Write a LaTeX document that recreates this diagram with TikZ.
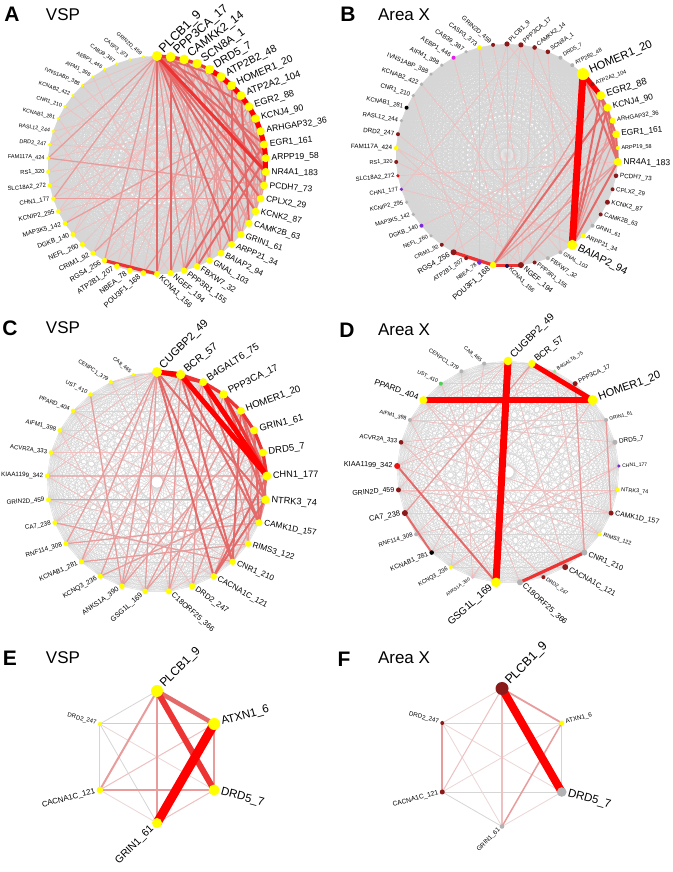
\documentclass[tikz,border=0pt]{standalone}
\usepackage{fontspec}
\setmainfont{Liberation Sans}
\definecolor{HubYellow}{HTML}{FFFF00}
\definecolor{DarkRed}{HTML}{8B1A1A}
\definecolor{NodeGray}{HTML}{B2B2B2}
\definecolor{DeepPurple}{HTML}{7A2BD9}
\definecolor{HotMagenta}{HTML}{E020E8}
\definecolor{NavyDot}{HTML}{14145A}
\definecolor{BrightRed}{HTML}{EE1111}
\definecolor{LeafGreen}{HTML}{4CD24C}
\definecolor{PaleGreen}{HTML}{9BE89B}
\definecolor{PalePink}{HTML}{F2B8C6}
\definecolor{MeshGray}{HTML}{D6D6D6}
\definecolor{EdgeFaint}{HTML}{EDD6D6}
\definecolor{EdgeLow}{HTML}{EFC0C0}
\definecolor{EdgeMid}{HTML}{E89C9C}
\definecolor{EdgeHigh}{HTML}{E46A6A}
\definecolor{EdgeTop}{HTML}{EE3333}
\definecolor{EdgeMax}{HTML}{FF0000}
\usetikzlibrary{positioning, calc, backgrounds}

\tikzset{
  gene/.style={circle, inner sep=0pt, draw=none},
  glab/.style={inner sep=0pt, text=black},
  mesh/.style={draw=MeshGray, line width=0.35pt},
  eLow/.style={draw=EdgeLow, line width=0.8pt},
  eMid/.style={draw=EdgeMid, line width=1.3pt},
  eHigh/.style={draw=EdgeHigh, line width=2pt},
  eTop/.style={draw=EdgeTop, line width=3.2pt},
  eMax/.style={draw=EdgeMax, line width=5pt},
  plabel/.style={font=\fontsize{21}{21}\selectfont\bfseries},
  ptitle/.style={font=\fontsize{17}{17}\selectfont}
}

\begin{document}
\begin{tikzpicture}[x=1pt, y=1pt]
  \useasboundingbox (0,0) rectangle (672,872);
  \begin{scope}[on background layer]
    \fill[white] (0,0) rectangle (672,872);
  \end{scope}

  % Panel A -- VSP
  \node[plabel] (labA) at (12,858) {A};
  \node[ptitle] (ttlA) at (63,857) {VSP};
  \foreach \g [count=\k] in {PLCB1\_9, PPP3CA\_17, CAMKK2\_14, SCN8A\_1, DRD5\_7,
      ATP2B2\_48, HOMER1\_20, ATP2A2\_104, EGR2\_88, KCNJ4\_90, ARHGAP32\_36,
      EGR1\_161, ARPP19\_58, NR4A1\_183, PCDH7\_73, CPLX2\_29, KCNK2\_87,
      CAMK2B\_63, GRIN1\_61, ARPP21\_34, BAIAP2\_94, GNAL\_103, FBXW7\_32,
      PPP3R1\_155, NGEF\_194, KCNA1\_156, POU3F1\_168, NBEA\_78, ATP2B1\_207,
      RGS4\_256, CRIM1\_92, NEFL\_260, DGKB\_140, MAP3K5\_142, KCNIP2\_295,
      CHN1\_177, SLC18A2\_272, RS1\_320, FAM117A\_424, DRD2\_247, RASL12\_244,
      KCNAB1\_281, CNR1\_210, KCNAB2\_422, IVNS1ABP\_388, AIFM1\_398,
      AEBP1\_446, CAB39\_387, CASP3\_373, GRIN2D\_459} {
    \pgfmathsetmacro\ang{90-7.2*(\k-1)}
    \pgfmathsetmacro\nr{max(1.5,5-0.08*(\k-1))}
    \pgfmathsetmacro\fs{\k<=10 ? 12.5-0.4*(\k-1) :
      (\k<=26 ? 8.8-0.07*(\k-10) : max(5.3,7.7-0.16*(\k-26)))}
    \pgfmathtruncatemacro\lft{\ang<-90}
    \pgfmathsetmacro\rot{\lft ? (\ang+180)/2 : \ang/2}
    \ifnum\lft=1 \def\anc{east}\else \def\anc{west}\fi
    \node[gene, fill=HubYellow, minimum size=2*\nr] (a\k) at ($(157,707)+(\ang:109)$) {};
    \node[glab, anchor=\anc, rotate=\rot, font=\fontsize{\fs}{\fs}\selectfont]
      (al\k) at ($(a\k.center)+(\rot+180*\lft:\nr+1.5)$) {\g};
  }
  \begin{scope}[on background layer]
    \foreach \i in {1,...,49} {
      \pgfmathtruncatemacro\nx{\i+1}
      \foreach \j in {\nx,...,50} \draw[mesh] (a\i.center) -- (a\j.center);
    }
    \foreach \i/\j in {1/33, 1/42, 1/45, 2/29, 2/35, 2/40, 3/27, 3/31, 3/38, 4/33,
        5/30, 5/37, 6/28, 6/34, 7/32, 7/41, 8/29, 8/36, 10/22, 10/39, 11/26,
        11/31, 12/30, 13/35, 19/43, 21/44, 25/42, 12/38, 13/40, 20/45, 22/47,
        18/37, 7/35, 11/33, 24/46, 27/41}
      \draw[eLow] (a\i.center) -- (a\j.center);
    \foreach \i/\j in {15/16, 1/18, 1/19, 1/22, 1/24, 1/28, 1/30, 1/36, 1/39, 2/16,
        2/19, 2/21, 3/15, 3/18, 3/23, 4/12, 4/17, 4/20, 4/26, 5/16, 5/21, 5/24,
        6/13, 6/19, 6/22, 7/14, 7/25, 8/23, 9/15, 9/17, 9/24, 10/16, 10/27,
        11/17, 12/19, 14/17, 14/21, 15/39, 16/36, 10/34, 9/31}
      \draw[eMid] (a\i.center) -- (a\j.center);
    \foreach \i/\j in {14/15, 1/4, 1/6, 1/9, 1/12, 1/15, 1/16, 1/17, 1/20, 1/26,
        2/14, 2/25, 3/13, 5/14, 7/20, 8/18, 12/24, 13/23}
      \draw[eHigh] (a\i.center) -- (a\j.center);
    \foreach \i/\j in {1/2, 2/3, 3/4, 4/5, 1/14, 26/30}
      \draw[eTop] (a\i.center) -- (a\j.center);
    \foreach \i/\j in {5/6, 6/7, 7/8, 8/9, 9/10, 10/11, 11/12, 12/13, 13/14}
      \draw[eMax] (a\i.center) -- (a\j.center);
  \end{scope}

  % Panel B -- Area X
  \node[plabel] (labB) at (348,858) {B};
  \node[ptitle] (ttlB) at (404,857) {Area X};
  \foreach \g/\nr/\fs/\col [count=\k] in {PLCB1\_9/2.6/6.3/DarkRed,
      PPP3CA\_17/2.6/6.3/DarkRed, CAMKK2\_14/2.3/6/DarkRed, SCN8A\_1/2.3/6/DarkRed,
      DRD5\_7/2/5.5/NodeGray, ATP2B2\_48/2/5.5/NodeGray, HOMER1\_20/6/11.3/HubYellow,
      ATP2A2\_104/2/5.5/DarkRed, EGR2\_88/4.5/9.5/HubYellow, KCNJ4\_90/4/8.5/HubYellow,
      ARHGAP32\_36/3/6/HubYellow, EGR1\_161/3.8/8.3/HubYellow,
      ARPP19\_58/2/5.5/HubYellow, NR4A1\_183/4/8.6/HubYellow, PCDH7\_73/2.3/6.3/DarkRed,
      CPLX2\_29/2/6/DarkRed, KCNK2\_87/2.5/6.3/DarkRed, CAMK2B\_63/2/6/DarkRed,
      GRIN1\_61/2/5.5/NodeGray, ARPP21\_34/2.3/6/HubYellow, BAIAP2\_94/5/10.5/HubYellow,
      GNAL\_103/2/5.5/NodeGray, FBXW7\_32/2/6/NodeGray, PPP3R1\_155/2/6/DarkRed,
      NGEF\_194/3/7.2/DarkRed, KCNA1\_156/2/6/NavyDot, POU3F1\_168/3.3/7.7/HubYellow,
      NBEA\_78/2.3/5.5/DeepPurple, ATP2B1\_207/2/6/DarkRed, RGS4\_256/3/7.3/DarkRed,
      CRIM1\_92/2/5.5/DarkRed, NEFL\_260/1.8/5.5/NodeGray, DGKB\_140/2/6/DeepPurple,
      MAP3K5\_142/1.8/5.8/NodeGray, KCNIP2\_295/1.8/5.8/NodeGray,
      CHN1\_177/1.8/5.8/DeepPurple, SLC18A2\_272/1.8/6/BrightRed, RS1\_320/2/5.5/DarkRed,
      FAM117A\_424/2.3/6.3/HubYellow, DRD2\_247/2/6.3/DarkRed,
      RASL12\_244/1.8/6/NodeGray, KCNAB1\_281/2/6/black, CNR1\_210/1.8/6.2/NodeGray,
      KCNAB2\_422/1.8/6.2/NodeGray, IVNS1ABP\_388/1.8/6.2/NodeGray,
      AIFM1\_398/1.8/6.2/NodeGray, AEBP1\_446/2/6.2/HotMagenta,
      CAB39\_387/1.8/6.2/NodeGray, CASP3\_373/2.3/6.2/HubYellow,
      GRIN2D\_459/2/6.2/DarkRed} {
    \pgfmathsetmacro\ang{90-7.2*(\k-1)}
    \pgfmathtruncatemacro\lft{\ang<-90}
    \pgfmathsetmacro\rot{\lft ? (\ang+180)/2 : \ang/2}
    \ifnum\lft=1 \def\anc{east}\else \def\anc{west}\fi
    \node[gene, fill=\col, minimum size=2*\nr] (b\k) at ($(507,717)+(\ang:111)$) {};
    \node[glab, anchor=\anc, rotate=\rot, font=\fontsize{\fs}{\fs}\selectfont]
      (bl\k) at ($(b\k.center)+(\rot+180*\lft:\nr+1.5)$) {\g};
  }
  \begin{scope}[on background layer]
    \foreach \i in {1,...,49} {
      \pgfmathtruncatemacro\nx{\i+1}
      \foreach \j in {\nx,...,50} \draw[mesh] (b\i.center) -- (b\j.center);
    }
    \foreach \i/\j in {26/10, 2/27, 3/25, 1/26, 4/22, 50/24, 1/30, 2/36, 39/21,
        39/25, 37/14, 33/12, 36/20, 40/23, 43/29, 44/22, 38/21, 30/12, 31/9,
        49/25, 49/28, 47/26, 2/19, 3/18, 1/15}
      \draw[eLow] (b\i.center) -- (b\j.center);
    \foreach \i/\j in {12/21, 11/21, 10/12, 11/14, 7/12, 27/12, 27/9, 27/14,
        25/12, 25/14}
      \draw[eMid] (b\i.center) -- (b\j.center);
    \foreach \i/\j in {9/10, 7/10, 9/12, 9/14, 10/14, 12/14, 10/21, 9/21, 14/21,
        7/14, 27/10}
      \draw[eHigh] (b\i.center) -- (b\j.center);
    \foreach \i/\j in {30/27, 27/25}
      \draw[eTop] (b\i.center) -- (b\j.center);
    \draw[eMax] (b7.center) -- (b9.center);
    \draw[eMax, line width=7pt] (b7.center) -- (b21.center);
  \end{scope}

  % Panel C -- VSP
  \node[plabel] (labC) at (10,544) {C};
  \node[ptitle] (ttlC) at (63,544) {VSP};
  \foreach \g/\nr/\fs [count=\k] in {CUGBP2\_49/5/11, BCR\_57/4.7/10.5,
      B4GALT6\_75/4/10, PPP3CA\_17/4.3/9.7, HOMER1\_20/4/9.7, GRIN1\_61/4/9.5,
      DRD5\_7/4/9.5, CHN1\_177/4.5/9.2, NTRK3\_74/4.3/9.2, CAMK1D\_157/3.5/8.3,
      RIMS3\_122/3.2/8.2, CNR1\_210/3.2/8, CACNA1C\_121/3.2/8, DRD2\_247/3.2/7.8,
      C18ORF25\_366/3/7.5, GSG1L\_169/2.8/7.2, ANKS1A\_390/2.8/7, KCNQ3\_236/2.6/6.7,
      KCNAB1\_281/2.6/6.6, RNF114\_308/2.5/6.4, CA7\_238/2.4/6.3,
      GRIN2D\_459/2.4/6.3, KIAA1199\_342/2.4/6.3, ACVR2A\_333/2.3/6,
      AIFM1\_398/2.3/6, PPARD\_404/2.2/5.8, UST\_410/2.2/5.6, CENPC1\_379/2/5.5,
      CA8\_465/1.8/5.3} {
    \pgfmathsetmacro\ang{90-360/29*(\k-1)}
    \pgfmathtruncatemacro\lft{\ang<-90}
    \pgfmathsetmacro\rot{\lft ? (\ang+180)/2 : \ang/2}
    \ifnum\lft=1 \def\anc{east}\else \def\anc{west}\fi
    \node[gene, fill=HubYellow, minimum size=2*\nr] (c\k) at ($(157,390)+(\ang:110)$) {};
    \node[glab, anchor=\anc, rotate=\rot, font=\fontsize{\fs}{\fs}\selectfont]
      (cl\k) at ($(c\k.center)+(\rot+180*\lft:\nr+1.5)$) {\g};
  }
  \begin{scope}[on background layer]
    \foreach \i in {1,...,28} {
      \pgfmathtruncatemacro\nx{\i+1}
      \foreach \j in {\nx,...,29} \draw[mesh] (c\i.center) -- (c\j.center);
    }
    \foreach \i/\j in {24/7, 25/16, 26/14, 28/13, 29/15, 24/12, 21/5, 19/3, 22/11,
        23/13, 20/7, 15/11, 25/10, 26/9, 1/24, 1/26, 1/28, 2/23, 3/21, 4/19,
        5/17, 6/15}
      \draw[eLow] (c\i.center) -- (c\j.center);
    \foreach \i/\j in {13/7, 3/14, 2/15, 1/16, 1/17, 1/19, 1/20, 4/11, 6/11, 9/10,
        23/8, 22/9, 20/10, 19/11, 21/12, 18/9, 17/6, 16/5, 15/4, 27/17, 18/2,
        17/3, 16/7, 14/6, 12/9}
      \draw[eMid] (c\i.center) -- (c\j.center);
    \foreach \i/\j in {5/8, 4/9, 5/9, 3/10, 2/10, 1/12, 2/12, 6/10, 13/8, 13/9,
        1/13, 1/9, 5/12, 8/10, 7/9}
      \draw[eHigh] (c\i.center) -- (c\j.center);
    \foreach \i/\j in {2/3, 3/4, 4/5, 5/6, 6/7, 7/8, 4/8, 1/3}
      \draw[eTop] (c\i.center) -- (c\j.center);
    \foreach \i/\j in {1/2, 3/8, 2/8}
      \draw[eMax] (c\i.center) -- (c\j.center);
  \end{scope}

  % Panel D -- Area X
  \node[plabel] (labD) at (347,542) {D};
  \node[ptitle] (ttlD) at (404,542) {Area X};
  \foreach \g/\nr/\fs/\col [count=\k] in {CUGBP2\_49/4.3/10/HubYellow,
      BCR\_57/3.7/9/HubYellow, B4GALT6\_75/1.8/5/PaleGreen, PPP3CA\_17/2.5/6.2/DarkRed,
      HOMER1\_20/5/11/HubYellow, GRIN1\_61/2/5/NodeGray, DRD5\_7/2.5/6.5/NodeGray,
      CHN1\_177/1.8/5/DeepPurple, NTRK3\_74/2/5.5/HubYellow, CAMK1D\_157/2.5/7/DarkRed,
      RIMS3\_122/2/5.5/HubYellow, CNR1\_210/3/7.5/NodeGray, CACNA1C\_121/3/7.5/DarkRed,
      DRD2\_247/2/5.2/DarkRed, C18ORF25\_366/3/7.8/NodeGray, GSG1L\_169/4.8/10/HubYellow,
      ANKS1A\_390/1.8/4.6/PalePink, KCNQ3\_236/2/5.8/HubYellow, KCNAB1\_281/2.3/6.5/black,
      RNF114\_308/2/6/NodeGray, CA7\_238/3/7.6/DarkRed, GRIN2D\_459/2.5/7/DarkRed,
      KIAA1199\_342/3/7.3/BrightRed, ACVR2A\_333/2.3/6.1/DarkRed,
      AIFM1\_398/2/5.3/NodeGray, PPARD\_404/4/8.3/HubYellow, UST\_410/2/5.3/LeafGreen,
      CENPC1\_379/2/5.5/NodeGray, CA8\_465/2/5.2/NodeGray} {
    \pgfmathsetmacro\ang{90-360/29*(\k-1)}
    \pgfmathtruncatemacro\lft{\ang<-90}
    \pgfmathsetmacro\rot{\lft ? (\ang+180)/2 : \ang/2}
    \ifnum\lft=1 \def\anc{east}\else \def\anc{west}\fi
    \node[gene, fill=\col, minimum size=2*\nr] (d\k) at ($(508,400)+(\ang:111)$) {};
    \node[glab, anchor=\anc, rotate=\rot, font=\fontsize{\fs}{\fs}\selectfont]
      (dl\k) at ($(d\k.center)+(\rot+180*\lft:\nr+1.5)$) {\g};
  }
  \begin{scope}[on background layer]
    \foreach \i in {1,...,28} {
      \pgfmathtruncatemacro\nx{\i+1}
      \foreach \j in {\nx,...,29} \draw[mesh] (d\i.center) -- (d\j.center);
    }
    \foreach \i/\j in {23/3, 26/13, 24/14, 22/10, 25/16, 27/15, 28/17, 29/18, 1/13,
        1/22, 2/19, 3/12, 4/20, 5/23, 6/24, 7/25, 8/18, 9/22, 11/23, 13/26, 14/24,
        17/5, 18/7, 19/8, 20/9, 1/25, 26/11, 22/12, 24/10, 5/17}
      \draw[eLow] (d\i.center) -- (d\j.center);
    \foreach \i/\j in {10/6, 12/4, 21/2}
      \draw[eMid] (d\i.center) -- (d\j.center);
    \foreach \i/\j in {23/16, 21/19}
      \draw[eHigh] (d\i.center) -- (d\j.center);
    \draw[eTop] (d15.center) -- (d12.center);
    \draw[eMax] (d2.center) -- (d5.center);
    \draw[eMax, line width=6pt] (d26.center) -- (d5.center);
    \draw[eMax, line width=7pt] (d1.center) -- (d16.center);
  \end{scope}

  % Panel E -- VSP
  \node[plabel] (labE) at (10,214) {E};
  \node[ptitle] (ttlE) at (63,214) {VSP};
  \foreach \g/\nr/\fs/\col [count=\k] in {PLCB1\_9/6/12/HubYellow,
      ATXN1\_6/6/11.5/HubYellow, DRD5\_7/5.5/11.5/HubYellow, GRIN1\_61/5/10.5/HubYellow,
      CACNA1C\_121/3.3/7.8/HubYellow, DRD2\_247/2/6/HubYellow} {
    \pgfmathsetmacro\ang{90-60*(\k-1)}
    \pgfmathtruncatemacro\lft{\ang<-89}
    \pgfmathsetmacro\rot{\lft ? (\ang+180)/2 : \ang/2}
    \ifnum\lft=1 \def\anc{east}\else \def\anc{west}\fi
    \node[gene, fill=\col, minimum size=2*\nr] (e\k) at ($(157,115)+(\ang:66)$) {};
    \node[glab, anchor=\anc, rotate=\rot, font=\fontsize{\fs}{\fs}\selectfont]
      (el\k) at ($(e\k.center)+(\rot+180*\lft:\nr+1.5)$) {\g};
  }
  \begin{scope}[on background layer]
    \foreach \i/\j/\lw/\c in {6/1/0.8/MeshGray, 6/4/0.8/MeshGray, 6/5/0.8/MeshGray,
        5/4/0.8/EdgeFaint, 6/3/0.8/EdgeFaint, 6/2/1/EdgeLow, 2/5/1/EdgeLow,
        4/3/1/EdgeLow, 2/3/1.5/EdgeMid, 1/5/2/EdgeMid, 5/3/2.8/EdgeMid,
        1/4/2.8/EdgeMid, 1/2/4.5/EdgeHigh, 1/3/6/EdgeTop, 2/4/9/EdgeMax}
      \draw[draw=\c, line width=\lw] (e\i.center) -- (e\j.center);
  \end{scope}

  % Panel F -- Area X
  \node[plabel] (labF) at (344,213) {F};
  \node[ptitle] (ttlF) at (404,214) {Area X};
  \foreach \g/\nr/\fs/\col [count=\k] in {PLCB1\_9/6.5/12.5/DarkRed,
      ATXN1\_6/2.5/6.3/HubYellow, DRD5\_7/4.8/11.5/NodeGray, GRIN1\_61/2.3/6.3/NodeGray,
      CACNA1C\_121/2.5/6.7/DarkRed, DRD2\_247/2/6.2/DarkRed} {
    \pgfmathsetmacro\ang{90-60*(\k-1)}
    \pgfmathtruncatemacro\lft{\ang<-89}
    \pgfmathsetmacro\rot{\lft ? (\ang+180)/2 : \ang/2}
    \ifnum\lft=1 \def\anc{east}\else \def\anc{west}\fi
    \node[gene, fill=\col, minimum size=2*\nr] (f\k) at ($(502,114.5)+(\ang:69)$) {};
    \node[glab, anchor=\anc, rotate=\rot, font=\fontsize{\fs}{\fs}\selectfont]
      (fl\k) at ($(f\k.center)+(\rot+180*\lft:\nr+1.5)$) {\g};
  }
  \begin{scope}[on background layer]
    \foreach \i/\j/\lw/\c in {6/2/0.8/MeshGray, 5/3/0.8/MeshGray, 5/4/0.8/MeshGray,
        2/3/0.8/MeshGray, 6/3/0.8/EdgeFaint, 6/4/0.8/EdgeFaint, 5/2/0.8/EdgeFaint,
        3/4/0.8/EdgeFaint, 6/1/0.8/EdgeFaint, 1/5/1/EdgeLow, 1/4/1.5/EdgeLow,
        2/4/1.5/EdgeMid, 1/2/1.8/EdgeMid, 6/5/2/EdgeMid, 1/3/8/EdgeMax}
      \draw[draw=\c, line width=\lw] (f\i.center) -- (f\j.center);
  \end{scope}
\end{tikzpicture}
\end{document}
